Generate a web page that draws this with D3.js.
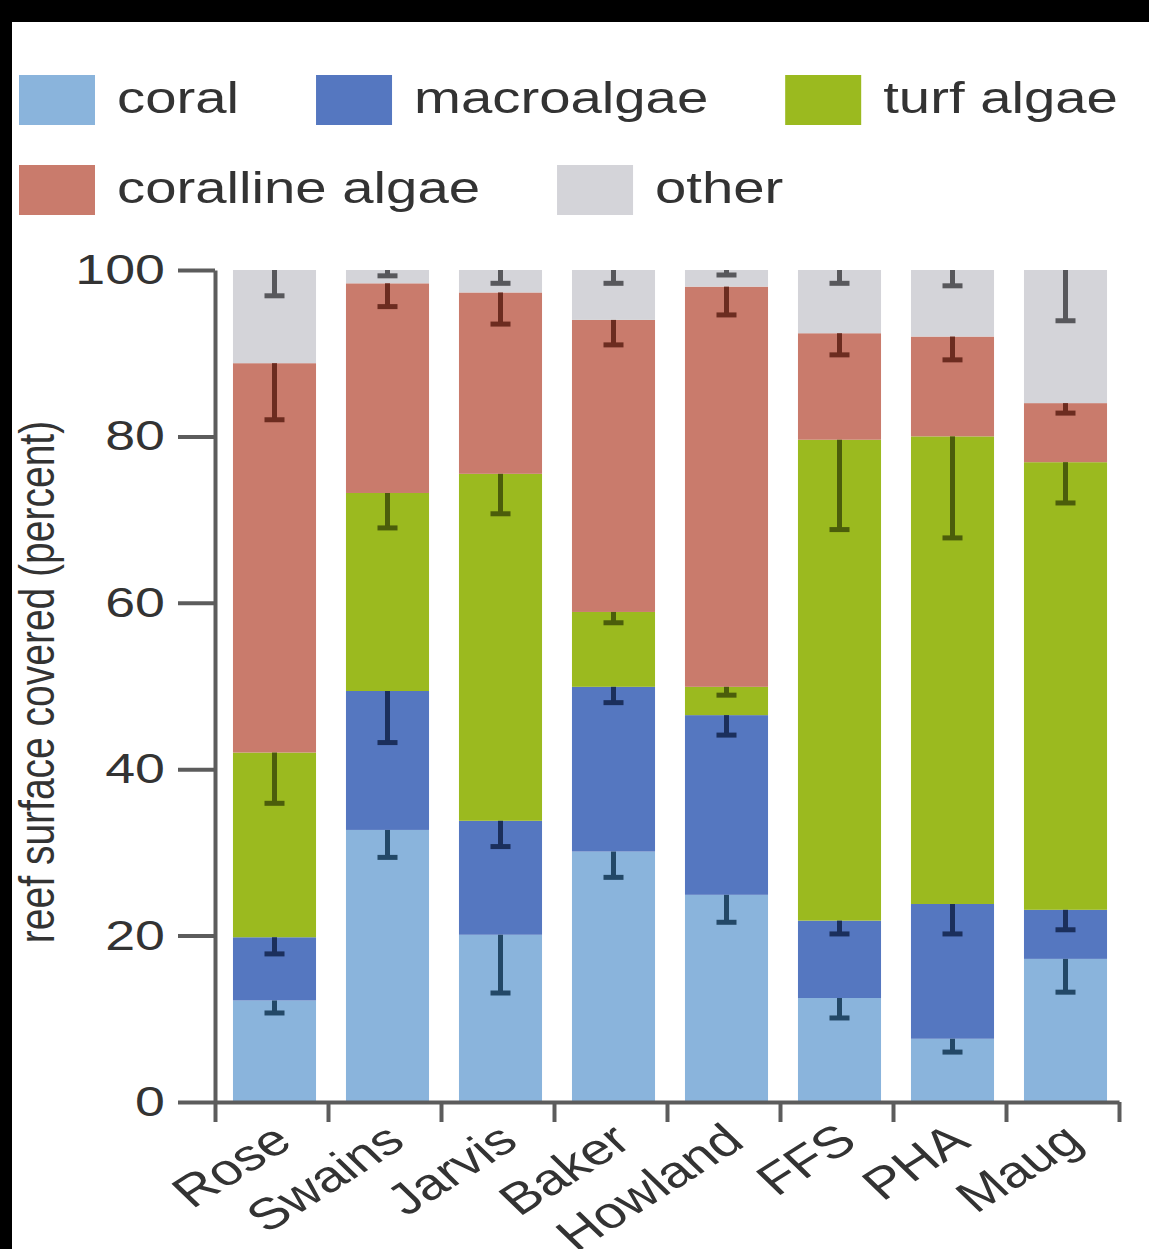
<!DOCTYPE html>
<html>
<head>
<meta charset="utf-8">
<script src="https://cdn.jsdelivr.net/npm/d3@7"></script>
<style>
  html, body { margin: 0; padding: 0; background: #fff; }
  svg { display: block; }
</style>
</head>
<body>
<script>
// Reef benthic cover by site (percent of surface), stacked from the bottom.
const sites = ["Rose", "Swains", "Jarvis", "Baker", "Howland", "FFS", "PHA", "Maug"];

const coral          = [12.2, 32.7, 20.1, 30.1, 24.9, 12.5,  7.6, 17.2];
const macroalgae     = [ 7.6, 16.7, 13.7, 19.8, 21.6,  9.3, 16.2,  5.9];
const turfAlgae      = [22.2, 23.8, 41.7,  9.0,  3.4, 57.8, 56.2, 53.8];
const corallineAlgae = [46.8, 25.2, 21.8, 35.1, 48.1, 12.8, 12.0,  7.1];
const other          = [11.2,  1.6,  2.7,  6.0,  2.0,  7.6,  8.0, 16.0];

// Standard errors for each category
const coralErr       = [1.5, 3.3, 7.0, 3.1, 3.3,  2.4,  1.6, 4.0];
const macroalgaeErr  = [2.0, 6.2, 3.1, 1.9, 2.4,  1.6,  3.6, 2.4];
const turfAlgaeErr   = [6.1, 4.2, 4.8, 1.3, 1.0, 10.8, 12.2, 4.9];
const corallineErr   = [6.8, 2.8, 3.8, 3.0, 3.4,  2.6,  2.8, 1.2];
const otherErr       = [3.1, 0.7, 1.6, 1.6, 0.6,  1.6,  1.9, 6.1];

const categories = ["coral", "macroalgae", "turf algae", "coralline algae", "other"];
const yTicks = [0, 20, 40, 60, 80, 100];
const yTitle = "reef surface covered (percent)";

const fills    = ["#8ab4dc", "#5577c0", "#9bba1f", "#c97b6c", "#d4d4d9"];
const errInk   = ["#234867", "#1b2f5c", "#4b5d0b", "#6c2c20", "#58585c"];

const valueCols = [coral, macroalgae, turfAlgae, corallineAlgae, other];
const errCols   = [coralErr, macroalgaeErr, turfAlgaeErr, corallineErr, otherErr];

const W = 1149, H = 1249;
const FONT = "'Liberation Sans', Arial, Helvetica, sans-serif";
const SX = 1.28;            // horizontal glyph stretch used throughout the figure
const INK = "#333";
const AXIS = "#5c5c5c";

const table = sites.map((s, i) => {
  const row = { site: s };
  categories.forEach((c, k) => { row[c] = valueCols[k][i]; });
  return row;
});

const svg = d3.select("body").append("svg")
  .attr("width", W).attr("height", H)
  .attr("viewBox", `0 0 ${W} ${H}`);

svg.append("rect").attr("width", W).attr("height", H).attr("fill", "#fff");

const y = d3.scaleLinear().domain([0, 100]).range([1102, 270]);
const x = d3.scaleBand().domain(sites).range([215, 1119]).paddingInner(0.265).paddingOuter(0.1325);
const xEdge = d3.scaleLinear().domain([0, sites.length]).range([215, 1119]);
const color = d3.scaleOrdinal().domain(categories).range(fills);

const stack = d3.stack().keys(categories)(table);

// bars
const bars = svg.append("g").attr("transform", "translate(3,0)");
bars.selectAll("g.layer")
  .data(stack)
  .join("g")
  .attr("class", "layer")
  .attr("fill", d => color(d.key))
  .selectAll("rect")
  .data(d => d)
  .join("rect")
  .attr("x", d => x(d.data.site))
  .attr("width", x.bandwidth())
  .attr("y", d => y(d[1]))
  .attr("height", d => y(d[0]) - y(d[1]));

// error bars, hanging from the top of each segment
stack.forEach((layer, k) => {
  const g = bars.append("g").attr("stroke", errInk[k]).attr("stroke-width", 5);
  layer.forEach((d, i) => {
    const cx = x(d.data.site) + x.bandwidth() / 2;
    const top = y(d[1]);
    const low = y(d[1] - errCols[k][i]);
    g.append("line").attr("x1", cx).attr("x2", cx).attr("y1", top).attr("y2", low);
    g.append("line").attr("x1", cx - 10).attr("x2", cx + 10).attr("y1", low).attr("y2", low);
  });
});

// y axis
const yAxis = svg.append("g")
  .attr("transform", "translate(215,0)")
  .call(d3.axisLeft(y).tickValues(yTicks).tickSize(37).tickSizeOuter(0).tickFormat(d3.format("d")));
yAxis.select(".domain").attr("stroke", AXIS).attr("stroke-width", 4);
yAxis.selectAll(".tick line").attr("stroke", AXIS).attr("stroke-width", 4);
yAxis.selectAll(".tick text")
  .attr("x", 0)
  .attr("transform", `translate(-50,0) scale(${SX},1)`)
  .attr("fill", INK)
  .style("font-family", FONT)
  .style("font-size", "42px");

// x axis
const xAxis = svg.append("g")
  .attr("transform", `translate(0,${y(0)})`)
  .call(d3.axisBottom(xEdge).tickValues(d3.range(sites.length + 1)).tickSize(20).tickSizeOuter(0).tickFormat(""));
xAxis.select(".domain").attr("stroke", AXIS).attr("stroke-width", 4);
xAxis.selectAll(".tick line").attr("stroke", AXIS).attr("stroke-width", 4);

svg.append("g").selectAll("text")
  .data(sites)
  .join("text")
  .attr("transform", d => `translate(${x(d) + x.bandwidth() / 2 + 23},1145) scale(${SX},1) rotate(-39)`)
  .attr("text-anchor", "end")
  .attr("fill", INK)
  .style("font-family", FONT)
  .style("font-size", "44px")
  .text(d => d);

// y title
svg.append("text")
  .attr("transform", `translate(54,682) scale(${SX},1) rotate(-90)`)
  .attr("text-anchor", "middle")
  .attr("fill", INK)
  .style("font-family", FONT)
  .style("font-size", "39px")
  .text(yTitle);

// legend, two rows laid out left to right
const legendRows = [categories.slice(0, 3), categories.slice(3)];
legendRows.forEach((row, r) => {
  let cx = 19;
  const top = 75 + r * 90;
  row.forEach(c => {
    svg.append("rect")
      .attr("x", cx).attr("y", top)
      .attr("width", 76).attr("height", 50)
      .attr("fill", color(c));
    const t = svg.append("text")
      .attr("transform", `translate(${cx + 98},${top + 38}) scale(${SX},1)`)
      .attr("fill", INK)
      .style("font-family", FONT)
      .style("font-size", "44px")
      .text(c);
    cx += 98 + t.node().getComputedTextLength() * SX + 77;
  });
});

// frame edges
svg.append("rect").attr("x", 0).attr("y", 0).attr("width", W).attr("height", 22).attr("fill", "#000");
svg.append("rect").attr("x", 0).attr("y", 0).attr("width", 12).attr("height", H).attr("fill", "#000");
</script>
</body>
</html>
